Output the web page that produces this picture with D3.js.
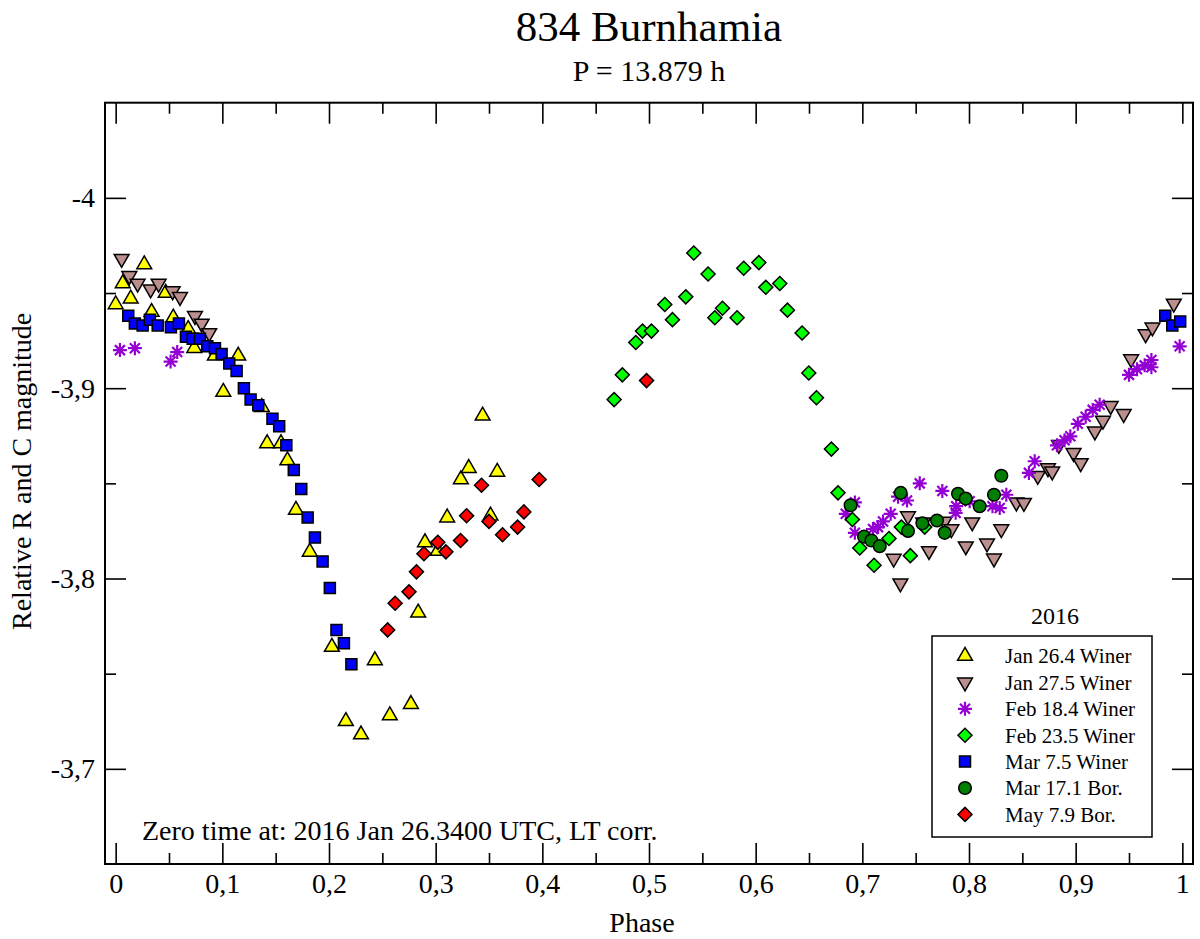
<!DOCTYPE html>
<html>
<head>
<meta charset="utf-8">
<script src="https://cdn.jsdelivr.net/npm/d3@7"></script>
<style>
  body { margin: 0; background: #fff; }
  text { font-family: "Liberation Serif", "Times New Roman", serif; fill: #000; }
</style>
</head>
<body>
<div id="chart"></div>
<script>
// phase, relative magnitude for each session
const jan26 = [[0.000,-3.944],[0.0066,-3.955],[0.0141,-3.947],[0.0268,-3.965],[0.0337,-3.940],[0.0469,-3.950],
  [0.054,-3.937],[0.068,-3.931],[0.0737,-3.921],[0.093,-3.917],[0.1009,-3.898],[0.1149,-3.917],[0.137,-3.890],
  [0.142,-3.871],[0.155,-3.871],[0.161,-3.862],[0.169,-3.836],[0.182,-3.814],[0.2027,-3.764],[0.2158,-3.725],
  [0.230,-3.718],[0.243,-3.757],[0.257,-3.728],[0.2768,-3.734],[0.2836,-3.782],[0.290,-3.819],[0.302,-3.8145],
  [0.3108,-3.832],[0.3236,-3.852],[0.331,-3.858],[0.344,-3.8855],[0.3514,-3.833],[0.3577,-3.856]];

const jan27 = [[0.0056,-3.968],[0.0128,-3.959],[0.0206,-3.955],[0.0328,-3.952],[0.0403,-3.955],[0.0534,-3.951],
  [0.0603,-3.948],[0.0743,-3.938],[0.0806,-3.934],[0.0877,-3.929],
  [0.7294,-3.8105],[0.7357,-3.7975],[0.7428,-3.8328],[0.757,-3.8296],[0.7625,-3.8145],[0.777,-3.830],[0.7835,-3.826],
  [0.797,-3.817],[0.803,-3.8296],[0.8169,-3.8185],[0.8234,-3.8106],[0.8303,-3.826],[0.8444,-3.840],[0.8515,-3.8398],
  [0.8645,-3.854],[0.874,-3.858],[0.878,-3.8563],[0.8843,-3.8703],[0.898,-3.866],[0.9047,-3.8607],[0.918,-3.8773],
  [0.9256,-3.883],[0.9328,-3.8907],[0.945,-3.8865],[0.952,-3.9153],[0.9656,-3.9284],[0.972,-3.932],[0.992,-3.9445]];

const feb18 = [[0.004,-3.920],[0.018,-3.921],[0.0515,-3.914],[0.0577,-3.919],
  [0.6845,-3.834],[0.693,-3.840],[0.693,-3.824],[0.710,-3.826],[0.7147,-3.827],[0.7194,-3.830],[0.7266,-3.834],
  [0.7335,-3.843],[0.7419,-3.841],[0.7538,-3.850],[0.775,-3.846],[0.7875,-3.8345],[0.788,-3.838],[0.8006,-3.8406],
  [0.822,-3.838],[0.8288,-3.837],[0.835,-3.844],[0.8562,-3.8555],[0.8616,-3.8616],[0.8825,-3.870],[0.8896,-3.8726],
  [0.895,-3.8747],[0.902,-3.8813],[0.9094,-3.885],[0.916,-3.8886],[0.9225,-3.8913],[0.950,-3.907],[0.9575,-3.910],
  [0.9647,-3.912],[0.971,-3.911],[0.971,-3.9148],[0.9975,-3.922]];

const feb23 = [[0.4673,-3.894],[0.475,-3.907],[0.4876,-3.924],[0.4939,-3.930],[0.5023,-3.930],[0.5148,-3.944],
  [0.522,-3.936],[0.5345,-3.948],[0.542,-3.971],[0.5554,-3.960],[0.5617,-3.937],[0.5689,-3.942],[0.5826,-3.937],
  [0.5888,-3.963],[0.603,-3.966],[0.6095,-3.953],[0.6226,-3.955],[0.6298,-3.941],[0.6435,-3.929],[0.6498,-3.908],
  [0.657,-3.895],[0.671,-3.868],[0.6772,-3.845],[0.6907,-3.831],[0.6976,-3.816],[0.711,-3.807],[0.725,-3.821],
  [0.7366,-3.827],[0.745,-3.812],[0.7585,-3.827]];

const mar7 = [[0.0118,-3.938],[0.018,-3.934],[0.0253,-3.933],[0.0321,-3.936],[0.0394,-3.933],[0.0518,-3.932],
  [0.0593,-3.934],[0.0659,-3.927],[0.0722,-3.926],[0.079,-3.926],[0.0859,-3.922],[0.0931,-3.921],[0.0993,-3.918],
  [0.1065,-3.913],[0.1134,-3.909],[0.1202,-3.900],[0.1265,-3.894],[0.1337,-3.891],[0.147,-3.884],[0.1533,-3.880],
  [0.160,-3.870],[0.167,-3.857],[0.174,-3.847],[0.180,-3.832],[0.1868,-3.8215],[0.194,-3.809],[0.2008,-3.795],
  [0.207,-3.773],[0.214,-3.766],[0.221,-3.755],
  [0.984,-3.938],[0.9906,-3.933],[0.998,-3.935]];

const mar17 = [[0.689,-3.8385],[0.7016,-3.822],[0.7085,-3.820],[0.7163,-3.817],[0.736,-3.845],[0.7428,-3.825],
  [0.7563,-3.829],[0.770,-3.8305],[0.7772,-3.824],[0.7897,-3.8445],[0.7969,-3.842],[0.810,-3.838],[0.8234,-3.844],
  [0.8303,-3.854]];

const may7 = [[0.255,-3.773],[0.262,-3.787],[0.275,-3.793],[0.282,-3.8035],[0.289,-3.813],[0.302,-3.819],
  [0.3096,-3.814],[0.3233,-3.820],[0.329,-3.833],[0.343,-3.849],[0.350,-3.830],[0.3627,-3.823],[0.3768,-3.827],
  [0.3827,-3.835],[0.397,-3.852],[0.4977,-3.904]];

const seriesLabels = ["Jan 26.4 Winer", "Jan 27.5 Winer", "Feb 18.4 Winer", "Feb 23.5 Winer",
  "Mar 7.5 Winer", "Mar 17.1 Bor.", "May 7.9 Bor."];

const xMajor = [0, 0.1, 0.2, 0.3, 0.4, 0.5, 0.6, 0.7, 0.8, 0.9, 1];
const xMinor = [0.05, 0.15, 0.25, 0.35, 0.45, 0.55, 0.65, 0.75, 0.85, 0.95];
const yMajor = [-4, -3.9, -3.8, -3.7];
const yMinor = [-3.95, -3.85, -3.75];

const W = 1200, H = 939;
const plotLeft = 105, plotTop = 102.7, plotRight = 1193, plotBottom = 864;

const svg = d3.select('#chart').append('svg')
  .attr('width', W).attr('height', H);

const x = d3.scaleLinear().domain([-0.01, 1.01]).range([plotLeft, plotRight]);
const y = d3.scaleLinear().domain([-4.05, -3.65]).range([plotTop, plotBottom]);

// comma as decimal mark, plain hyphen for minus
const fmt = d => String(+d.toFixed(2)).replace('.', ',');

// marker styles, one per session (legend order = drawing order)
const asterisk = 'M-7,0L7,0M0,-7L0,7M-5,-5L5,5M-5,5L5,-5';
const styles = [
  { path: d3.symbol(d3.symbolTriangle, 95)(), rot: 0, fill: '#ffff00', stroke: '#000', sw: 1.5 },
  { path: d3.symbol(d3.symbolTriangle, 95)(), rot: 180, fill: '#bc8f8f', stroke: '#000', sw: 1.5 },
  { path: asterisk, rot: 0, fill: 'none', stroke: '#9400d3', sw: 2.2 },
  { path: d3.symbol(d3.symbolSquare, 98)(), rot: 45, fill: '#00ff00', stroke: '#000', sw: 1.5 },
  { path: d3.symbol(d3.symbolSquare, 121)(), rot: 0, fill: '#0000ff', stroke: '#000', sw: 1.5 },
  { path: d3.symbol(d3.symbolCircle, 125)(), rot: 0, fill: '#007f00', stroke: '#000', sw: 1.5 },
  { path: d3.symbol(d3.symbolSquare, 98)(), rot: 45, fill: '#ff0000', stroke: '#000', sw: 1.5 }
];
const allSeries = [jan26, jan27, feb18, feb23, mar7, mar17, may7];

// Frame
svg.append('rect')
  .attr('x', plotLeft).attr('y', plotTop)
  .attr('width', plotRight - plotLeft).attr('height', plotBottom - plotTop)
  .attr('fill', 'none').attr('stroke', '#000').attr('stroke-width', 2);

// Axes, ticks pointing inward on all four sides
function axisGroup(axis, tx, ty) {
  const g = svg.append('g').attr('transform', `translate(${tx},${ty})`).call(axis);
  g.select('.domain').remove();
  g.selectAll('line').attr('stroke', '#000').attr('stroke-width', 1.6);
  return g;
}

const bx = axisGroup(d3.axisBottom(x).tickValues(xMajor).tickSize(-21).tickPadding(9).tickFormat(fmt), 0, plotBottom);
bx.selectAll('text').style('font-size', '28px').attr('font-family', null);
axisGroup(d3.axisBottom(x).tickValues(xMinor).tickSize(-11).tickFormat(''), 0, plotBottom);
axisGroup(d3.axisTop(x).tickValues(xMajor).tickSize(-21).tickFormat(''), 0, plotTop);
axisGroup(d3.axisTop(x).tickValues(xMinor).tickSize(-11).tickFormat(''), 0, plotTop);

const ly = axisGroup(d3.axisLeft(y).tickValues(yMajor).tickSize(-21).tickPadding(10).tickFormat(fmt), plotLeft, 0);
ly.selectAll('text').style('font-size', '28px').attr('font-family', null);
axisGroup(d3.axisLeft(y).tickValues(yMinor).tickSize(-11).tickFormat(''), plotLeft, 0);
axisGroup(d3.axisRight(y).tickValues(yMajor).tickSize(-21).tickFormat(''), plotRight, 0);
axisGroup(d3.axisRight(y).tickValues(yMinor).tickSize(-11).tickFormat(''), plotRight, 0);

// Data points
allSeries.forEach((data, i) => {
  const s = styles[i];
  svg.append('g').selectAll('path')
    .data(data)
    .enter()
    .append('path')
    .attr('d', s.path)
    .attr('transform', d => `translate(${x(d[0])},${y(d[1])}) rotate(${s.rot})`)
    .attr('fill', s.fill)
    .attr('stroke', s.stroke)
    .attr('stroke-width', s.sw);
});

// Titles and labels
svg.append('text').attr('x', 649).attr('y', 41).attr('text-anchor', 'middle')
  .style('font-size', '43px').text('834 Burnhamia');
svg.append('text').attr('x', 649).attr('y', 81).attr('text-anchor', 'middle')
  .style('font-size', '30px').text('P = 13.879 h');
svg.append('text').attr('x', 642).attr('y', 932).attr('text-anchor', 'middle')
  .style('font-size', '28px').text('Phase');
svg.append('text')
  .attr('transform', `translate(31,${(plotTop + plotBottom) / 2 - 12}) rotate(-90)`)
  .attr('text-anchor', 'middle')
  .style('font-size', '28px').text('Relative R and C magnitude');
svg.append('text').attr('x', 142).attr('y', 840)
  .style('font-size', '28px').text('Zero time at: 2016 Jan 26.3400 UTC, LT corr.');

// Legend
const legX = 932, legY = 636, legW = 220, legH = 201;
svg.append('text').attr('x', legX + 123).attr('y', 624).attr('text-anchor', 'middle')
  .style('font-size', '24px').text('2016');
svg.append('rect').attr('x', legX).attr('y', legY).attr('width', legW).attr('height', legH)
  .attr('fill', '#fff').attr('stroke', '#000').attr('stroke-width', 1.5);

const leg = svg.append('g').selectAll('g')
  .data(seriesLabels)
  .enter()
  .append('g')
  .attr('transform', (d, i) => `translate(${legX},${legY + 20 + i * 26.4})`);

leg.append('path')
  .attr('d', (d, i) => styles[i].path)
  .attr('transform', (d, i) => `translate(33,0) rotate(${styles[i].rot})`)
  .attr('fill', (d, i) => styles[i].fill)
  .attr('stroke', (d, i) => styles[i].stroke)
  .attr('stroke-width', (d, i) => styles[i].sw);

leg.append('text')
  .attr('x', 73).attr('dy', '0.35em')
  .style('font-size', '21px')
  .text(d => d);
</script>
</body>
</html>
